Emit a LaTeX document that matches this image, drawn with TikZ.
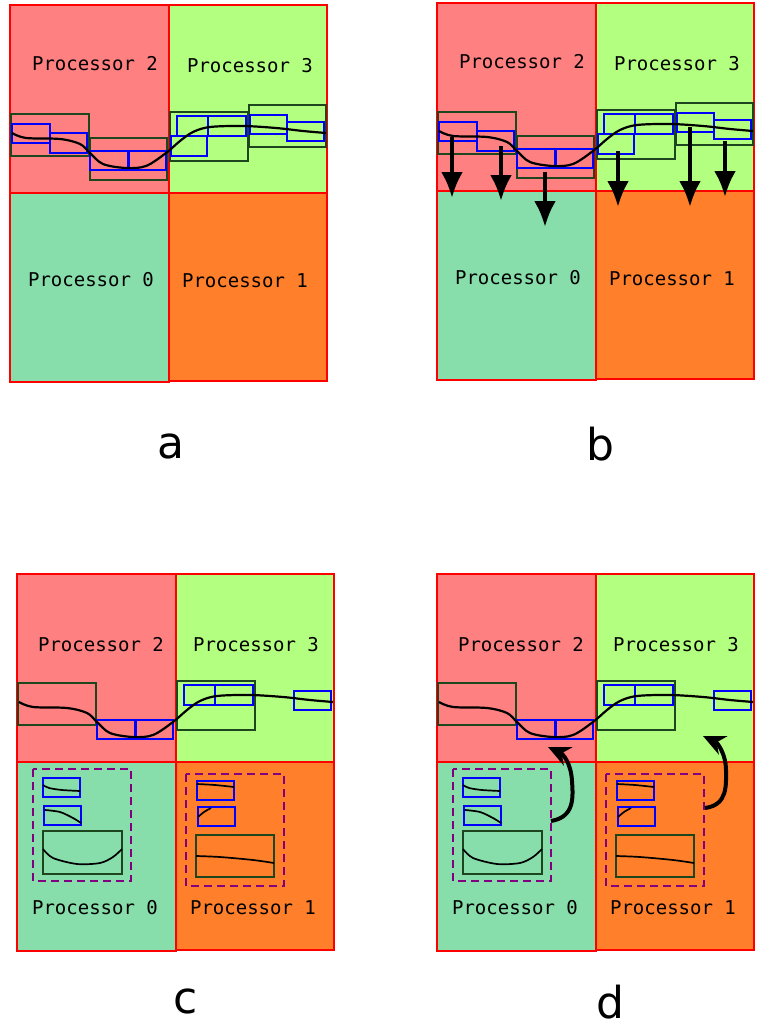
\documentclass[tikz,border=0pt]{standalone}
\usepackage{fontspec}
\newfontfamily\monof{DejaVu Sans Mono}
\newfontfamily\sansf{DejaVu Sans}
\usetikzlibrary{arrows.meta}
\definecolor{pred}{HTML}{FF8080}
\definecolor{pgreen}{HTML}{B3FF80}
\definecolor{pteal}{HTML}{87DEAA}
\definecolor{porange}{HTML}{FF7F2A}
\definecolor{dkgreen}{HTML}{1E461E}
\definecolor{purp}{HTML}{800080}
\definecolor{bblue}{HTML}{0000FF}

\newcommand\procgrid{%
  \fill[pred] (10,5) rectangle (169,193);
  \fill[pgreen] (169,5) rectangle (327,193);
  \fill[pteal] (10,193) rectangle (169,382);
  \fill[porange] (169,193) rectangle (327,381);
  \draw[proc] (10,5) rectangle (169,193);
  \draw[proc] (169,5) rectangle (327,193);
  \draw[proc] (10,193) rectangle (169,382);
  \draw[proc] (169,193) rectangle (327,381);
}
\newcommand\thecurve{%
  \draw[curveline] plot[smooth, tension=0.55] coordinates {(12,133) (26,138) (60,139) (80,144) (90,153) (103,164) (126,168) (146,166) (166,153) (180,141) (193,132) (210,127) (243,126) (276,128) (303,131) (326,133)};
}
\newcommand\boxesfull{%
  \draw[gbox] (11,114) rectangle (89,156);
  \draw[bbox] (12,124) rectangle (50,143);
  \draw[bbox] (50,133) rectangle (87,153);
  \draw[gbox] (90,138) rectangle (167,180);
  \draw[bbox] (90,151) rectangle (166,170);
  \draw[bbox, line width=3] (128,151) -- (128,170);
  \draw[gbox] (170,112) rectangle (248,161);
  \draw[bbox] (177,116) rectangle (208,136);
  \draw[bbox] (208,116) rectangle (246,136);
  \draw[bbox] (171,136) rectangle (207,156);
  \draw[gbox] (249,105) rectangle (326,147);
  \draw[bbox] (250,115) rectangle (287,134);
  \draw[bbox] (287,122) rectangle (324,141);
}
\newcommand\boxesleft{%
  \draw[gbox] (11,114) rectangle (89,156);
  \draw[bbox] (90,151) rectangle (166,170);
  \draw[bbox, line width=3] (128,151) -- (128,170);
  \draw[gbox] (170,112) rectangle (248,161);
  \draw[bbox] (177,116) rectangle (208,136);
  \draw[bbox] (208,116) rectangle (246,136);
  \draw[bbox] (287,122) rectangle (324,141);
}
\newcommand\sentboxes{%
  \draw[dbox] (26,200) rectangle (124,312);
  \draw[bbox] (36,209) rectangle (73,228);
  \draw[smallcurve] plot[smooth] coordinates {(36,216) (42,219) (55,221) (73,222)};
  \draw[bbox] (37,237) rectangle (74,256);
  \draw[smallcurve] plot[smooth] coordinates {(38,241) (53,243) (66,249) (74,254)};
  \draw[gbox] (36,262) rectangle (115,305);
  \draw[smallcurve] plot[smooth] coordinates {(36,280) (46,289) (70,295) (93,294) (106,288) (115,280)};
  \draw[dbox] (179,205) rectangle (277,317);
  \draw[bbox] (190,212) rectangle (227,231);
  \draw[smallcurve] plot[smooth] coordinates {(190,215) (208,216) (227,218)};
  \draw[bbox] (191,238) rectangle (228,257);
  \draw[smallcurve] plot[smooth] coordinates {(191,248) (197,243) (204,239)};
  \draw[gbox] (189,266) rectangle (267,308);
  \draw[smallcurve] plot[smooth] coordinates {(189,287) (213,288) (246,291) (267,294)};
}

\begin{document}
\begin{tikzpicture}[x=1pt,y=-1pt,
  proc/.style={draw=red, line width=1.5},
  gbox/.style={draw=dkgreen, line width=2},
  bbox/.style={draw=bblue, line width=1.9},
  dbox/.style={draw=purp, line width=1.2, dash pattern=on 8pt off 5pt},
  curveline/.style={draw=black, line width=2.2},
  smallcurve/.style={draw=black, line width=1.7},
  plabel/.style={font=\monof\fontsize{19}{22}\selectfont, text=black},
  letter/.style={font=\sansf\fontsize{44}{50}\selectfont, anchor=base},
  downarrow/.style={line width=4.2, -{Latex[length=26pt,width=22pt]}},
  backarrow/.style={line width=4, -{Stealth[length=22pt,width=20pt,inset=7pt]}}]
\useasboundingbox (0,0) rectangle (756,1030);
\fill[white] (0,0) rectangle (756,1030);

% panel a
\begin{scope}
  \procgrid
  \boxesfull
  \thecurve
  \node[plabel] (a2) at (95,64) {Processor 2};
  \node[plabel] (a3) at (250,66) {Processor 3};
  \node[plabel] (a0) at (91,280) {Processor 0};
  \node[plabel] (a1) at (245,281) {Processor 1};
\end{scope}
\node[letter] (la) at (171,458) {a};

% panel b
\begin{scope}[shift={(427,-2)}]
  \procgrid
  \boxesfull
  \thecurve
  \node[plabel] (b2) at (95,64) {Processor 2};
  \node[plabel] (b3) at (250,66) {Processor 3};
  \node[plabel] (b0) at (91,280) {Processor 0};
  \node[plabel] (b1) at (245,281) {Processor 1};
  \coordinate (s1) at (25,139);  \coordinate (e1) at (25,200);
  \coordinate (s2) at (74,148);  \coordinate (e2) at (74,203);
  \coordinate (s3) at (118,174); \coordinate (e3) at (118,229);
  \coordinate (s4) at (191,153); \coordinate (e4) at (191,209);
  \coordinate (s5) at (263,129); \coordinate (e5) at (263,209);
  \coordinate (s6) at (298,143); \coordinate (e6) at (298,199);
  \draw[downarrow] (s1) -- (e1);
  \draw[downarrow] (s2) -- (e2);
  \draw[downarrow] (s3) -- (e3);
  \draw[downarrow] (s4) -- (e4);
  \draw[downarrow] (s5) -- (e5);
  \draw[downarrow] (s6) -- (e6);
\end{scope}
\node[letter] (lb) at (600,460) {b};

% panel c
\begin{scope}[shift={(7,569)}]
  \procgrid
  \boxesleft
  \thecurve
  \sentboxes
  \node[plabel] (c2) at (94,76) {Processor 2};
  \node[plabel] (c3) at (249,76) {Processor 3};
  \node[plabel] (c0) at (88,339) {Processor 0};
  \node[plabel] (c1) at (246,339) {Processor 1};
\end{scope}
\node[letter] (lc) at (186,1013) {c};

% panel d
\begin{scope}[shift={(427,569)}]
  \procgrid
  \boxesleft
  \thecurve
  \sentboxes
  \node[plabel] (d2) at (94,76) {Processor 2};
  \node[plabel] (d3) at (249,76) {Processor 3};
  \node[plabel] (d0) at (88,339) {Processor 0};
  \node[plabel] (d1) at (246,339) {Processor 1};
  \coordinate (f1) at (124,252); \coordinate (t1) at (121,178);
  \coordinate (f2) at (278,239); \coordinate (t2) at (276,167);
  \draw[backarrow] (f1) .. controls (148,248) and (146,228) .. (145,212) .. controls (144,194) and (136,185) .. (t1);
  \draw[backarrow] (f2) .. controls (301,236) and (299,216) .. (299,201) .. controls (299,186) and (291,174) .. (t2);
\end{scope}
\node[letter] (ld) at (610,1018) {d};
\end{tikzpicture}
\end{document}
